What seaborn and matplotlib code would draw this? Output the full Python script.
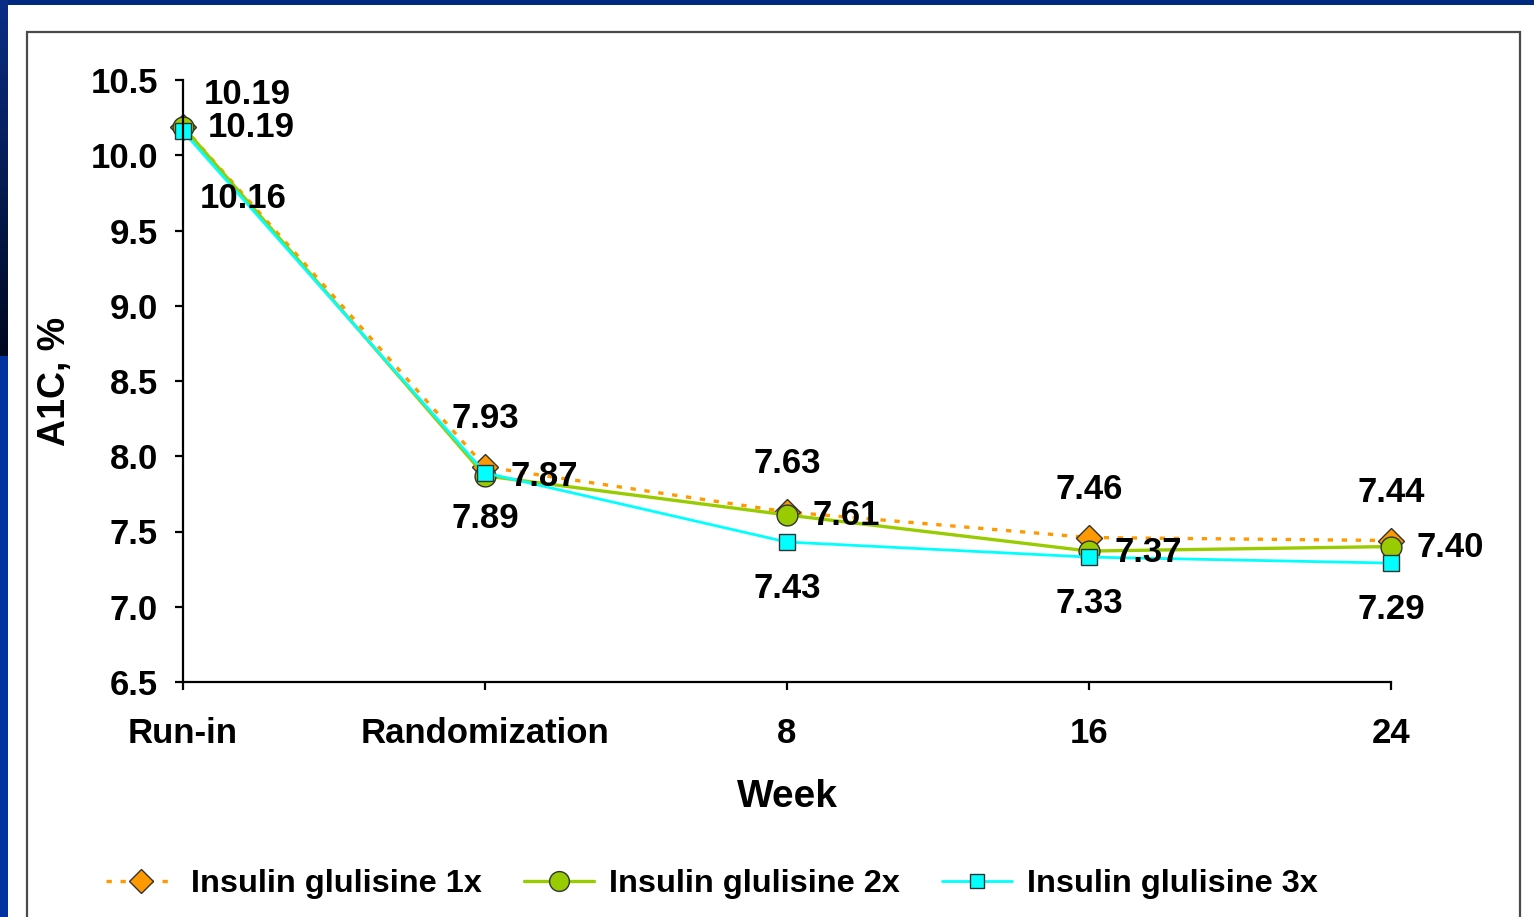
import numpy as np
import pandas as pd
import matplotlib
matplotlib.use("Agg")
import matplotlib.pyplot as plt
import seaborn as sns
from matplotlib.patches import Rectangle
from matplotlib.colors import LinearSegmentedColormap

# ---------------- data ----------------
timepoints = ["Run-in", "Randomization", "8", "16", "24"]
glulisine_1x = [10.19, 7.93, 7.63, 7.46, 7.44]
glulisine_2x = [10.19, 7.87, 7.61, 7.37, 7.40]
glulisine_3x = [10.16, 7.89, 7.43, 7.33, 7.29]
series_names = ["Insulin glulisine 1x", "Insulin glulisine 2x", "Insulin glulisine 3x"]
y_ticks = [6.5, 7.0, 7.5, 8.0, 8.5, 9.0, 9.5, 10.0, 10.5]
x_title = "Week"
y_title = "A1C, %"

# ---------------- style ----------------
sns.set_theme(style="white")
plt.rcParams["font.family"] = ["Liberation Sans", "DejaVu Sans"]
plt.rcParams["font.weight"] = "bold"

W, H = 1534, 917
fig = plt.figure(figsize=(W / 100, H / 100), dpi=100)
fig.patch.set_facecolor("#002a80")

# left strip gradient (top) and blue (bottom)
gax = fig.add_axes([0, 1 - 356 / H, 8 / W, 356 / H])
grad = np.linspace(0, 1, 256).reshape(-1, 1)
cmap = LinearSegmentedColormap.from_list("g", ["#0a2e86", "#00081f"])
gax.imshow(grad, aspect="auto", cmap=cmap)
gax.set_axis_off()
fig.add_artist(Rectangle((0, 0), 8 / W, 1 - 356 / H, transform=fig.transFigure,
                         facecolor="#0033a0", edgecolor="none", zorder=0))
# white panel
fig.add_artist(Rectangle((8 / W, 0), 1 - 8 / W, 1 - 5 / H, transform=fig.transFigure,
                         facecolor="white", edgecolor="none", zorder=0))
# inner box
fig.add_artist(Rectangle((27 / W, -0.02), (1520 - 27) / W, 1 - 32 / H + 0.02,
                         transform=fig.transFigure, fill=False,
                         edgecolor="#4a4a4a", linewidth=1.6, zorder=0.5))

ax = fig.add_axes([183 / W, 1 - 682 / H, (1391 - 183) / W, (682 - 80) / H])
ax.set_facecolor("none")

df = pd.DataFrame({
    "pos": np.arange(len(timepoints)),
    series_names[0]: glulisine_1x,
    series_names[1]: glulisine_2x,
    series_names[2]: glulisine_3x,
})

styles = [
    dict(color="#FF9900", marker="D", linestyle=(0, (1.6, 2.6)), lw=2.4, markersize=13),
    dict(color="#99CC00", marker="o", linestyle="-", lw=2.4, markersize=15),
    dict(color="#00FFFF", marker="s", linestyle="-", lw=2.0, markersize=11),
]

for name, st in zip(series_names, styles):
    sns.lineplot(data=df, x="pos", y=name, ax=ax, legend=False,
                 markeredgecolor="#333333", markeredgewidth=1.0,
                 clip_on=False, **st)

lines = ax.get_lines()[:3]
for ln in lines:
    ln.set_clip_on(False)

# value labels
px = 0.72  # points per pixel at 100 dpi
label_fs = 25
for i, v in enumerate(glulisine_1x):
    off = (64, 32) if i == 0 else (0, 48)
    ax.annotate(f"{v:.2f}", (i, v), xytext=(off[0] * px, off[1] * px),
                textcoords="offset points", ha="center", va="center",
                fontsize=label_fs, fontweight="bold", color="black")
for i, v in enumerate(glulisine_2x):
    ax.annotate(f"{v:.2f}", (i, v), xytext=(25 * px, -1 * px),
                textcoords="offset points", ha="left", va="center",
                fontsize=label_fs, fontweight="bold", color="black")
for i, v in enumerate(glulisine_3x):
    off = (60, -67) if i == 0 else (0, -46)
    ax.annotate(f"{v:.2f}", (i, v), xytext=(off[0] * px, off[1] * px),
                textcoords="offset points", ha="center", va="center",
                fontsize=label_fs, fontweight="bold", color="black")

ax.set_xlim(0, len(timepoints) - 1)
ax.set_ylim(y_ticks[0], y_ticks[-1])
ax.set_xticks(np.arange(len(timepoints)))
ax.set_xticklabels(timepoints)
ax.set_yticks(y_ticks)
ax.set_yticklabels([f"{t:.1f}" for t in y_ticks])

for s in ["top", "right"]:
    ax.spines[s].set_visible(False)
for s in ["left", "bottom"]:
    ax.spines[s].set_color("black")
    ax.spines[s].set_linewidth(1.6)

ax.tick_params(axis="both", which="major", direction="out", length=6, width=1.6,
               color="black", labelsize=25, labelcolor="black")
ax.tick_params(axis="y", pad=12, left=True)
ax.tick_params(axis="x", pad=19, bottom=True)
for lab in ax.get_xticklabels() + ax.get_yticklabels():
    lab.set_fontweight("bold")

ax.set_xlabel(x_title, fontsize=28, fontweight="bold", color="black")
ax.xaxis.set_label_coords(0.5, (682 - 797) / 602)
ax.xaxis.label.set_verticalalignment("center")
ax.set_ylabel(y_title, fontsize=27, fontweight="bold", color="black")
ax.yaxis.set_label_coords((55 - 183) / 1208, 0.5)
ax.yaxis.label.set_verticalalignment("center")

leg = fig.legend(lines, series_names, loc="center",
                 bbox_to_anchor=(712 / W, 1 - 884 / H), ncol=3, frameon=False,
                 fontsize=23.4, handlelength=2.15, handletextpad=0.46,
                 columnspacing=1.3, markerscale=0.95)
for t in leg.get_texts():
    t.set_fontweight("bold")
    t.set_color("black")

fig.savefig("out.png", dpi=100, facecolor=fig.get_facecolor())
